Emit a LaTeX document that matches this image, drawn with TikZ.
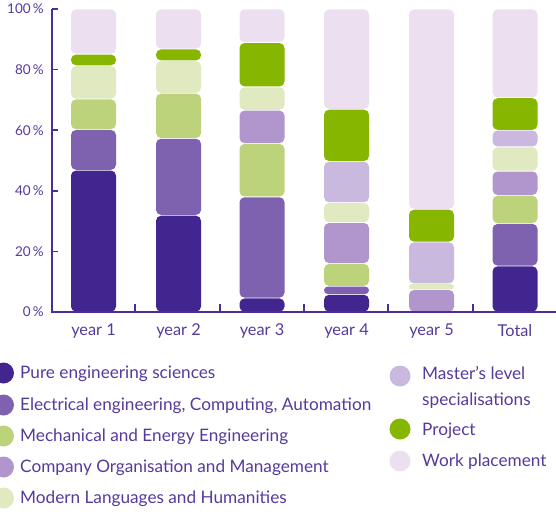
\documentclass[tikz,border=0pt]{standalone}
\usepackage{fontspec}
\setmainfont{Lato}
\definecolor{cPure}{HTML}{42258F}
\definecolor{cElec}{HTML}{7E62B0}
\definecolor{cMech}{HTML}{BCD27B}
\definecolor{cComp}{HTML}{B096CC}
\definecolor{cLang}{HTML}{E0E9BF}
\definecolor{cMast}{HTML}{C9B9DE}
\definecolor{cProj}{HTML}{86B600}
\definecolor{cWork}{HTML}{ECE0F0}
\definecolor{cText}{HTML}{563A9C}
\definecolor{cAxis}{HTML}{4B2E95}
\newcommand\barseg[4]{%
  \pgfmathsetmacro\ya{203+3.03*#2+0.4}%
  \pgfmathsetmacro\yb{203+3.03*#3-0.4}%
  \pgfmathsetmacro\rr{min(5,(\yb-\ya)/2)}%
  \fill[#4, rounded corners=\rr pt] (#1-22.5,\ya) rectangle (#1+22.5,\yb);}
\tikzset{
  axisline/.style={draw=cAxis, line width=1.6pt},
  ylab/.style={text=cText, font=\fontsize{13.5}{14}\selectfont, anchor=east, inner sep=0pt},
  xlab/.style={text=cText, font=\fontsize{16.3}{17}\selectfont, anchor=center, inner sep=0pt},
  leglab/.style={text=cText, font=\fontsize{17.2}{26}\selectfont, anchor=west, inner sep=0pt, align=left},
  legdot/.style={circle, minimum size=21pt, inner sep=0pt},
}
\begin{document}
\begin{tikzpicture}[x=1pt,y=1pt]
\useasboundingbox (0,0) rectangle (556,515);
% bars
% year 1
\barseg{93.5}{0}{46.8}{cPure}
\barseg{93.5}{46.8}{60.2}{cElec}
\barseg{93.5}{60.2}{70.3}{cMech}
\barseg{93.5}{70.3}{81.3}{cLang}
\barseg{93.5}{81.3}{85.1}{cProj}
\barseg{93.5}{85.1}{100}{cWork}
% year 2
\barseg{178.5}{0}{31.9}{cPure}
\barseg{178.5}{31.9}{57.3}{cElec}
\barseg{178.5}{57.3}{72.2}{cMech}
\barseg{178.5}{72.2}{82.9}{cLang}
\barseg{178.5}{82.9}{86.8}{cProj}
\barseg{178.5}{86.8}{100}{cWork}
% year 3
\barseg{262}{0}{4.6}{cPure}
\barseg{262}{4.6}{38}{cElec}
\barseg{262}{38}{55.6}{cMech}
\barseg{262}{55.6}{66.6}{cComp}
\barseg{262}{66.6}{74.3}{cLang}
\barseg{262}{74.3}{88.9}{cProj}
\barseg{262}{88.9}{100}{cWork}
% year 4
\barseg{346.5}{0}{5.8}{cPure}
\barseg{346.5}{5.8}{8.5}{cElec}
\barseg{346.5}{8.5}{16}{cMech}
\barseg{346.5}{16}{29.5}{cComp}
\barseg{346.5}{29.5}{36.1}{cLang}
\barseg{346.5}{36.1}{49.7}{cMast}
\barseg{346.5}{49.7}{66.9}{cProj}
\barseg{346.5}{66.9}{100}{cWork}
% year 5
\barseg{431.5}{0}{7.4}{cComp}
\barseg{431.5}{7.4}{9.3}{cLang}
\barseg{431.5}{9.3}{23.1}{cMast}
\barseg{431.5}{23.1}{33.9}{cProj}
\barseg{431.5}{33.9}{100}{cWork}
% total
\barseg{515}{0}{15.2}{cPure}
\barseg{515}{15.2}{29.2}{cElec}
\barseg{515}{29.2}{38.5}{cMech}
\barseg{515}{38.5}{46.5}{cComp}
\barseg{515}{46.5}{54.5}{cLang}
\barseg{515}{54.5}{60}{cMast}
\barseg{515}{60}{70.7}{cProj}
\barseg{515}{70.7}{100}{cWork}
% axes
\coordinate (o) at (52,203);
\coordinate (ytop) at (52,506);
\coordinate (xend) at (556,203);
\draw[axisline] (ytop) -- (o) -- (xend);
\foreach \p in {0,20,40,60,80,100}{
  \coordinate (yt\p) at (52,{203+3.03*\p});
  \draw[axisline] (yt\p) -- ++(6,0);
  \node[ylab] (yl\p) at (44,{203+3.03*\p}) {\p\,\%};
}
\foreach \sx in {135,220,304,388,473}{
  \coordinate (xt\sx) at (\sx,203);
  \draw[axisline] (xt\sx) -- ++(0,8);
}
\node[xlab] (x1) at (93.5,184) {year 1};
\node[xlab] (x2) at (178.5,184) {year 2};
\node[xlab] (x3) at (262,184) {year 3};
\node[xlab] (x4) at (346.5,184) {year 4};
\node[xlab] (x5) at (431.5,184) {year 5};
\node[xlab] (x6) at (515,184) {Total};
% legend left
\node[legdot, fill=cPure] (d1) at (3.5,142) {};
\node[leglab] (l1) at (20,141) {Pure engineering sciences};
\node[legdot, fill=cElec] (d2) at (3.5,110) {};
\node[leglab] (l2) at (20,109) {Electrical engineering, Computing, Automation};
\node[legdot, fill=cMech] (d3) at (3.5,79) {};
\node[leglab] (l3) at (20,78) {Mechanical and Energy Engineering};
\node[legdot, fill=cComp] (d4) at (3.5,48) {};
\node[leglab] (l4) at (20,47) {Company Organisation and Management};
\node[legdot, fill=cLang] (d5) at (3.5,17) {};
\node[leglab] (l5) at (20,16) {Modern Languages and Humanities};
% legend right
\node[legdot, fill=cMast] (d6) at (400,139) {};
\node[leglab] (l6) at (422,127.5) {Master's level\\specialisations};
\node[legdot, fill=cProj] (d7) at (400,86) {};
\node[leglab] (l7) at (422,84) {Project};
\node[legdot, fill=cWork] (d8) at (400,54) {};
\node[leglab] (l8) at (422,53) {Work placement};
\end{tikzpicture}
\end{document}
